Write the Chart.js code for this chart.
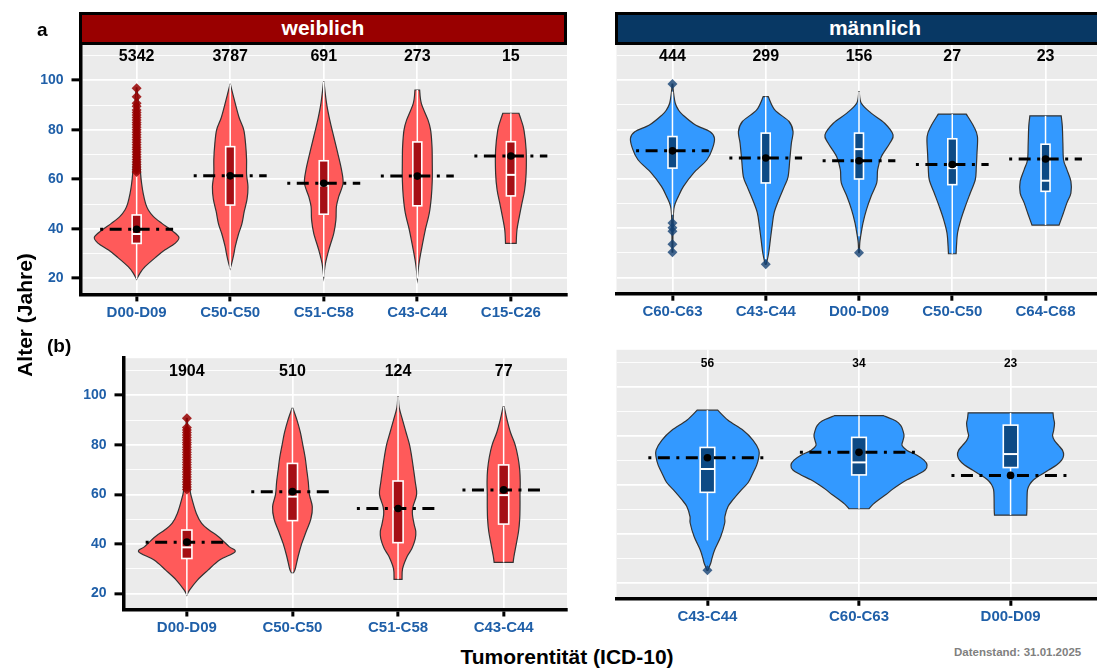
<!DOCTYPE html>
<html>
<head>
<meta charset="utf-8">
<script src="https://cdn.jsdelivr.net/npm/chart.js@4.4.1/dist/chart.umd.min.js"></script>
<style>
body{margin:0;width:1097px;height:669px;overflow:hidden;background:#fff;position:relative;font-family:"Liberation Sans",Arial,sans-serif;}
canvas{position:absolute;}
.t{position:absolute;font-weight:bold;white-space:nowrap;line-height:1;}
.strip{position:absolute;box-sizing:border-box;border:3px solid #000;color:#fff;font-weight:bold;font-size:21px;text-align:center;line-height:26px;}
</style>
</head>
<body>
<canvas id="aw" width="580" height="330" style="left:0;top:0"></canvas>
<canvas id="am" width="530" height="330" style="left:590px;top:0"></canvas>
<canvas id="bw" width="580" height="310" style="left:0;top:330px"></canvas>
<canvas id="bm" width="530" height="300" style="left:590px;top:330px"></canvas>

<div class="strip" style="left:79px;top:12px;width:488px;height:33px;background:#990000">weiblich</div>
<div class="strip" style="left:615px;top:12px;width:520px;height:33px;background:#083864">männlich</div>
<div class="t" style="left:37px;top:20px;font-size:19px">a</div>
<div class="t" style="left:47px;top:336px;font-size:19px">(b)</div>
<div class="t" style="left:23.5px;top:315px;font-size:21px;transform:translate(-50%,-50%) rotate(-90deg)">Alter (Jahre)</div>
<div class="t" style="left:567px;top:656px;font-size:21px;transform:translate(-50%,-50%)">Tumorentität (ICD-10)</div>
<div class="t" style="left:954px;top:647px;font-size:11.5px;color:#808080">Datenstand: 31.01.2025</div>

<script>
// ---- (a) weiblich ----
const awCats = ['D00-D09', 'C50-C50', 'C51-C58', 'C43-C44', 'C15-C26'];
const awCounts = [5342, 3787, 691, 273, 15];
const awMean = [39.8, 61.4, 58.4, 61.3, 69.4];
const awQ1 = [34.1, 49.6, 45.9, 49.3, 53.3];
const awMed = [37.9, 61, 57.5, 61, 61.8];
const awQ3 = [45.6, 73.2, 67.5, 75.1, 75.2];
const awLo = [19.6, 24, 20.6, 19.9, 34.1];
const awHi = [62, 98.4, 99.4, 96.1, 86.7];
const awOut = [
  [63, 64, 65, 66, 67, 68, 69, 70, 71, 72, 73, 74, 75, 76, 77, 78, 79, 80, 81, 82, 83, 84, 85, 86, 87, 88, 89.5, 90.7, 93.4, 96.8],
  [], [], [], []
];
const awVioAge = [
  [19.6, 22, 24.7, 28.7, 31.4, 34.1, 36.6, 39.5, 42.2, 44.9, 47.6, 50.3, 54.3, 58.4, 62, 70, 80, 90, 97],
  [24, 26, 30, 33, 38, 42, 47, 52, 57, 62, 68, 74, 80, 85, 92, 98.4],
  [20.6, 26, 31.4, 38.2, 43.6, 48.9, 53, 58.4, 63.8, 70.5, 77.2, 84, 90.7, 99.4],
  [19.9, 26, 32.8, 39.5, 46.3, 53, 59.8, 66.5, 73.3, 80, 84, 90.7, 96.1],
  [34.1, 39.5, 44.9, 50.3, 55.7, 62.4, 71.9, 79.9, 84, 86.7]
];
const awVioWid = [
  [0, 0.035, 0.09, 0.21, 0.30, 0.41, 0.452, 0.37, 0.27, 0.18, 0.125, 0.095, 0.07, 0.053, 0.043, 0.03, 0.025, 0.02, 0.004],
  [0, 0.016, 0.04, 0.055, 0.09, 0.125, 0.15, 0.18, 0.19, 0.175, 0.175, 0.165, 0.145, 0.095, 0.045, 0.002],
  [0, 0.018, 0.053, 0.107, 0.13, 0.135, 0.16, 0.206, 0.19, 0.15, 0.107, 0.064, 0.03, 0.002],
  [0, 0.018, 0.05, 0.085, 0.128, 0.15, 0.16, 0.16, 0.157, 0.142, 0.114, 0.043, 0.025],
  [0.057, 0.065, 0.09, 0.118, 0.147, 0.163, 0.163, 0.14, 0.11, 0.086]
];

// ---- (a) männlich ----
const amCats = ['C60-C63', 'C43-C44', 'D00-D09', 'C50-C50', 'C64-C68'];
const amCounts = [444, 299, 156, 27, 23];
const amMean = [71.4, 68.5, 67.4, 65.9, 68.1];
const amQ1 = [64.4, 58.4, 60, 57.7, 55];
const amMed = [71.5, 68, 72.1, 64.4, 59.3];
const amQ3 = [77.2, 78.6, 78.6, 76.3, 74.1];
const amLo = [45.5, 27.5, 36.8, 29.7, 41.3];
const amHi = [95.4, 93.4, 95.4, 86.3, 85.6];
const amOut = [[98.5, 42.2, 40.2, 38.8, 33.5, 30.3], [25.4], [30.1], [], []];
const amVioAge = [
  [30.3, 44, 48.9, 53, 57, 62.4, 67.8, 72.5, 76.6, 79.2, 82, 86, 88, 90.7, 95.4, 98.5],
  [25.4, 26.1, 30.1, 35.5, 40.8, 46.3, 51.6, 57, 61, 67.8, 74.5, 79.2, 83.3, 88, 93.4],
  [30.1, 34, 36.8, 42.2, 47.6, 53, 58.4, 63.8, 69.1, 74.5, 77.9, 82.6, 86.7, 90.7, 95.4],
  [29.7, 32.8, 38.2, 43.6, 48.9, 54.3, 59.7, 65.1, 70.5, 77.2, 81.3, 86.3],
  [41.3, 45.6, 50.3, 54.3, 59, 63.8, 67.8, 74.5, 81.3, 85.6]
];
const amVioWid = [
  [0.004, 0.008, 0.02, 0.064, 0.118, 0.226, 0.37, 0.43, 0.45, 0.40, 0.243, 0.11, 0.064, 0.03, 0.01, 0.004],
  [0.004, 0.01, 0.032, 0.05, 0.068, 0.09, 0.14, 0.2, 0.24, 0.258, 0.275, 0.293, 0.25, 0.097, 0.027],
  [0.004, 0.008, 0.018, 0.043, 0.08, 0.13, 0.19, 0.2, 0.24, 0.33, 0.365, 0.275, 0.13, 0.025, 0.002],
  [0.041, 0.045, 0.057, 0.093, 0.14, 0.193, 0.247, 0.258, 0.265, 0.27, 0.23, 0.15],
  [0.145, 0.186, 0.229, 0.272, 0.272, 0.229, 0.193, 0.186, 0.18, 0.168]
];

// ---- (b) weiblich ----
const bwCats = ['D00-D09', 'C50-C50', 'C51-C58', 'C43-C44'];
const bwCounts = [1904, 510, 124, 77];
const bwMean = [40.7, 61.1, 54.3, 61.8];
const bwQ1 = [34.1, 49.4, 40.5, 48];
const bwMed = [38.6, 59.1, 54, 59.7];
const bwQ3 = [45.6, 72.5, 65.4, 71.9];
const bwLo = [19.3, 28.4, 25.7, 32.5];
const bwHi = [62, 94.7, 99.5, 95.4];
const bwOut = [
  [62, 63, 64, 65, 66, 67, 68, 69, 70, 71, 72, 73, 74, 75, 76, 77, 78, 79, 80, 81, 82, 83, 84, 85, 86, 87, 90.7],
  [], [], []
];
const bwVioAge = [
  [19.3, 21.3, 25.4, 29.4, 33.5, 36.8, 38.9, 42.9, 45.6, 48.3, 52.3, 59, 62, 70, 80, 90.7],
  [28.4, 30, 35, 40, 45, 50, 55, 60, 65, 70, 75, 80, 85, 90, 94.7],
  [25.7, 30, 35, 38, 42, 45, 48, 52, 55, 60, 65, 70, 75, 80, 85, 90, 95, 99.5],
  [32.5, 35, 40, 45, 50, 55, 60, 65, 70, 75, 80, 85, 90, 95.4]
];
const bwVioWid = [
  [0, 0.025, 0.1, 0.2, 0.31, 0.456, 0.4, 0.3, 0.21, 0.14, 0.09, 0.043, 0.03, 0.02, 0.015, 0.005],
  [0.011, 0.027, 0.054, 0.087, 0.13, 0.174, 0.188, 0.16, 0.15, 0.135, 0.12, 0.098, 0.075, 0.043, 0.005],
  [0.038, 0.043, 0.087, 0.13, 0.163, 0.168, 0.152, 0.136, 0.141, 0.176, 0.163, 0.147, 0.13, 0.109, 0.076, 0.043, 0.011, 0.002],
  [0.09, 0.098, 0.12, 0.141, 0.152, 0.155, 0.155, 0.157, 0.152, 0.136, 0.109, 0.065, 0.033, 0.005]
];

// ---- (b) männlich ----
const bmCats = ['C43-C44', 'C60-C63', 'D00-D09'];
const bmCounts = [56, 34, 23];
const bmMean = [71, 73.2, 63.8];
const bmQ1 = [56.9, 64, 67];
const bmMed = [66.4, 69.1, 72.5];
const bmQ3 = [75.2, 79.3, 84.3];
const bmLo = [37.3, 50.2, 47.6];
const bmHi = [90.4, 88.2, 89.3];
const bmOut = [[25.1], [], []];
const bmVioAge = [
  [25.1, 28.1, 30, 33.5, 38.9, 44.4, 47, 51.1, 54, 57.9, 61, 64.7, 68, 71, 74.1, 78.2, 82.2, 86.3, 90.4],
  [50.2, 52, 54, 56, 58, 60, 62, 64, 66, 68, 70, 72, 74, 76, 78, 80, 82, 84, 86, 88.2],
  [47.6, 50, 55, 58, 60, 62, 64, 66, 68, 70, 72, 74, 76, 78, 80, 82, 85, 87, 89.3]
];
const bmVioWid = [
  [0.003, 0.022, 0.03, 0.048, 0.088, 0.114, 0.115, 0.136, 0.17, 0.224, 0.27, 0.3, 0.325, 0.338, 0.339, 0.3, 0.235, 0.136, 0.068],
  [0.066, 0.092, 0.132, 0.178, 0.218, 0.264, 0.317, 0.383, 0.436, 0.449, 0.429, 0.383, 0.317, 0.284, 0.29, 0.297, 0.29, 0.277, 0.244, 0.16],
  [0.106, 0.108, 0.109, 0.112, 0.125, 0.152, 0.198, 0.251, 0.304, 0.337, 0.35, 0.343, 0.317, 0.29, 0.277, 0.284, 0.29, 0.284, 0.28]
];

const yTickVals = [20, 30, 40, 50, 60, 70, 80, 90, 100, 110];
const countAt = 109.5;

const RED = { vio: '#FF5A5A', box: '#A50F15', out: 'rgba(150,0,0,0.85)' };
const BLUE = { vio: '#3399FF', box: '#0D4A85', out: 'rgba(20,65,115,0.8)' };
const TICKCOL = '#1F5FA8';
const FAMILY = '"Liberation Sans", Arial, sans-serif';

Chart.defaults.font.family = FAMILY;

// smooth curve through points (catmull-rom)
function spline(ctx, pts) {
  for (let k = 0; k < pts.length - 1; k++) {
    const p0 = pts[k - 1] || pts[k], p1 = pts[k], p2 = pts[k + 1], p3 = pts[k + 2] || p2;
    ctx.bezierCurveTo(
      p1[0] + (p2[0] - p0[0]) / 6, p1[1] + (p2[1] - p0[1]) / 6,
      p2[0] - (p3[0] - p1[0]) / 6, p2[1] - (p3[1] - p1[1]) / 6,
      p2[0], p2[1]);
  }
}

function violinPlugin(d, col, cntSize) {
  return {
    id: 'violin',
    beforeDraw(chart) {
      const a = chart.chartArea, c = chart.ctx;
      c.save();
      c.fillStyle = '#EBEBEB';
      c.fillRect(a.left, a.top, a.right - a.left, a.bottom - a.top);
      c.restore();
    },
    beforeDatasetsDraw(chart) {
      const xs = chart.scales.x, ys = chart.scales.y, c = chart.ctx;
      c.save();
      d.cats.forEach((cat, i) => {
        const px = xs.getPixelForValue(i);
        const ages = d.vAge[i], wids = d.vWid[i];
        const R = ages.map((a, k) => [xs.getPixelForValue(i + wids[k]), ys.getPixelForValue(a)]);
        const L = ages.map((a, k) => [xs.getPixelForValue(i - wids[k]), ys.getPixelForValue(a)]).reverse();
        c.beginPath();
        c.moveTo(R[0][0], R[0][1]);
        spline(c, R);
        c.lineTo(L[0][0], L[0][1]);
        spline(c, L);
        c.closePath();
        c.fillStyle = col.vio;
        c.strokeStyle = '#333';
        c.lineWidth = 1.2;
        c.fill();
        c.stroke();

        // whisker
        c.strokeStyle = '#fff';
        c.lineWidth = 1.5;
        c.beginPath();
        c.moveTo(px, ys.getPixelForValue(d.lo[i]));
        c.lineTo(px, ys.getPixelForValue(d.hi[i]));
        c.stroke();

        // box
        const bx0 = xs.getPixelForValue(i - 0.048), bx1 = xs.getPixelForValue(i + 0.048);
        const y1 = ys.getPixelForValue(d.q1[i]), y3 = ys.getPixelForValue(d.q3[i]);
        c.fillStyle = col.box;
        c.fillRect(bx0, y3, bx1 - bx0, y1 - y3);
        c.lineWidth = 1.6;
        c.strokeRect(bx0, y3, bx1 - bx0, y1 - y3);
        const ym = ys.getPixelForValue(d.med[i]);
        c.lineWidth = 2;
        c.beginPath();
        c.moveTo(bx0, ym);
        c.lineTo(bx1, ym);
        c.stroke();

        // mean line (dot-dash)
        const my = ys.getPixelForValue(d.mean[i]);
        c.strokeStyle = '#000';
        c.lineWidth = 3;
        c.setLineDash([3, 6.5, 12, 6.5]);
        c.beginPath();
        c.moveTo(xs.getPixelForValue(i - 0.39), my);
        c.lineTo(xs.getPixelForValue(i + 0.39), my);
        c.stroke();
        c.setLineDash([]);
      });
      c.restore();
    },
    afterDatasetsDraw(chart) {
      const xs = chart.scales.x, ys = chart.scales.y, c = chart.ctx;
      c.save();
      c.fillStyle = '#000';
      c.font = 'bold ' + cntSize + 'px ' + FAMILY;
      c.textAlign = 'center';
      c.textBaseline = 'middle';
      d.counts.forEach((n, i) => c.fillText(String(n), xs.getPixelForValue(i), ys.getPixelForValue(countAt)));
      c.restore();
    }
  };
}

function makePanel(id, d, col, g) {
  const pts = d.mean.map((m, i) => ({ x: i, y: m }));
  const outs = [];
  d.out.forEach((arr, i) => arr.forEach(v => outs.push({ x: i, y: v })));
  return new Chart(document.getElementById(id), {
    type: 'scatter',
    data: {
      datasets: [
        { data: pts, pointStyle: 'circle', pointRadius: 3.8, backgroundColor: '#000', borderWidth: 0 },
        { data: outs, pointStyle: 'rectRot', pointRadius: 5, backgroundColor: col.out, borderWidth: 0 }
      ]
    },
    options: {
      responsive: false,
      animation: false,
      events: [],
      layout: { padding: { top: g.top, right: g.right, left: 0, bottom: 0 } },
      plugins: { legend: { display: false }, tooltip: { enabled: false } },
      scales: {
        x: {
          type: 'linear',
          min: -0.6,
          max: d.cats.length - 0.4,
          afterBuildTicks: s => { s.ticks = d.cats.map((c, i) => ({ value: i })); },
          afterFit: s => { s.height = g.xH; },
          grid: { color: '#fff', lineWidth: 1.7, tickColor: '#000', tickWidth: 3, tickLength: 7 },
          border: { color: '#000', width: 3.5 },
          ticks: {
            autoSkip: false, maxRotation: 0, padding: 2,
            callback: v => d.cats[v],
            color: TICKCOL,
            font: { size: 15, weight: 'bold' }
          }
        },
        y: {
          type: 'linear',
          min: 13.5,
          max: 115,
          afterBuildTicks: s => { s.ticks = yTickVals.map(v => ({ value: v })); },
          afterFit: s => { s.width = g.yW; },
          grid: {
            color: '#fff',
            lineWidth: c => (c.tick && c.tick.value % 20 === 0) ? 1.7 : 0.9,
            drawTicks: g.showY,
            tickColor: c => (c.tick && c.tick.value % 20 === 0 && c.tick.value <= 100) ? '#000' : 'rgba(0,0,0,0)',
            tickWidth: 3,
            tickLength: 9
          },
          border: { display: g.showY, color: '#000', width: 3.5 },
          ticks: {
            display: g.showY,
            padding: 8,
            callback: v => (v % 20 === 0 && v <= 100) ? String(v) : '',
            color: TICKCOL,
            font: { size: 14, weight: 'bold' }
          }
        }
      }
    },
    plugins: [violinPlugin(d, col, g.cnt)]
  });
}

makePanel('aw', {
  cats: awCats, counts: awCounts, mean: awMean, q1: awQ1, med: awMed, q3: awQ3,
  lo: awLo, hi: awHi, out: awOut, vAge: awVioAge, vWid: awVioWid
}, RED, { top: 43.2, right: 13, yW: 80.5, xH: 35.6, showY: true, cnt: 16 });

makePanel('am', {
  cats: amCats, counts: amCounts, mean: amMean, q1: amQ1, med: amMed, q3: amQ3,
  lo: amLo, hi: amHi, out: amOut, vAge: amVioAge, vWid: amVioWid
}, BLUE, { top: 43.3, right: 18.5, yW: 26.5, xH: 36.3, showY: false, cnt: 16 });

makePanel('bw', {
  cats: bwCats, counts: bwCounts, mean: bwMean, q1: bwQ1, med: bwMed, q3: bwQ3,
  lo: bwLo, hi: bwHi, out: bwOut, vAge: bwVioAge, vWid: bwVioWid
}, RED, { top: 28.2, right: 13, yW: 123.5, xH: 30.5, showY: true, cnt: 16 });

makePanel('bm', {
  cats: bmCats, counts: bmCounts, mean: bmMean, q1: bmQ1, med: bmMed, q3: bmQ3,
  lo: bmLo, hi: bmHi, out: bmOut, vAge: bmVioAge, vWid: bmVioWid
}, BLUE, { top: 19.8, right: 18.5, yW: 26.5, xH: 31.2, showY: false, cnt: 12 });
</script>
</body>
</html>
